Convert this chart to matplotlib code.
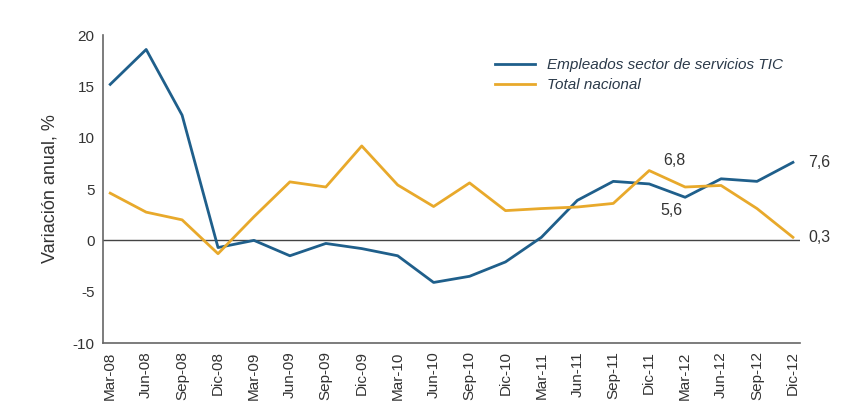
import matplotlib.pyplot as plt
import numpy as np

plt.rcParams['font.family'] = ['Liberation Sans', 'DejaVu Sans']
plt.rcParams['axes.unicode_minus'] = False

periodos = ['Mar-08', 'Jun-08', 'Sep-08', 'Dic-08', 'Mar-09', 'Jun-09', 'Sep-09', 'Dic-09',
            'Mar-10', 'Jun-10', 'Sep-10', 'Dic-10', 'Mar-11', 'Jun-11', 'Sep-11', 'Dic-11',
            'Mar-12', 'Jun-12', 'Sep-12', 'Dic-12']
tic = [15.2, 18.6, 12.2, -0.7, 0.0, -1.5, -0.3, -0.8, -1.5, -4.1, -3.5, -2.1, 0.3, 3.9,
       5.75, 5.5, 4.2, 6.0, 5.75, 7.6]
total = [4.6, 2.75, 2.0, -1.3, 2.3, 5.7, 5.2, 9.2, 5.4, 3.3, 5.6, 2.9, 3.1, 3.25,
         3.6, 6.8, 5.2, 5.35, 3.1, 0.3]

azul = '#1f5f8b'
naranja = '#e8a92b'
gris = '#444444'

fig = plt.figure(figsize=(8.53, 4.18), dpi=100)
ax = fig.add_axes([0.1208, 0.1794, 0.8172, 0.7366])

x = np.arange(len(periodos))
ax.plot(x, tic, color=azul, lw=2, label='Empleados sector de servicios TIC')
ax.plot(x, total, color=naranja, lw=2, label='Total nacional')
ax.axhline(0, color=gris, lw=1, zorder=0)

ax.set_xlim(-0.2, 19.2)
ax.set_ylim(-10, 20)
ax.set_yticks(np.arange(-10, 21, 5))
ax.set_xticks(x)
ax.set_xticklabels(periodos, rotation=90)
ax.tick_params(length=0, labelsize=11, colors='#333333', pad=6)
ax.set_ylabel('Variación anual, %', fontsize=13, color='#333333', labelpad=10)

for s in ['top', 'right']:
    ax.spines[s].set_visible(False)
for s in ['left', 'bottom']:
    ax.spines[s].set_color('#666666')
    ax.spines[s].set_linewidth(1.2)

ax.annotate('6,8', (15, total[15]), xytext=(10, 7), textcoords='offset points',
            ha='left', va='center', fontsize=11.5, color='#333333')
ax.annotate('5,6', (16, 5.6), xytext=(-18, -20), textcoords='offset points',
            ha='left', va='center', fontsize=11.5, color='#333333')
ax.annotate('7,6', (19, tic[19]), xytext=(11, 0), textcoords='offset points',
            ha='left', va='center', fontsize=11.5, color='#333333')
ax.annotate('0,3', (19, total[19]), xytext=(11, 0), textcoords='offset points',
            ha='left', va='center', fontsize=11.5, color='#333333')

leg = ax.legend(loc='upper left', bbox_to_anchor=(0.543, 0.97), frameon=False,
                prop={'style': 'italic', 'size': 11}, handlelength=2.6,
                labelspacing=0.4, handletextpad=0.8)
for t in leg.get_texts():
    t.set_color('#2b3a4a')

fig.savefig('out.png', dpi=100)
